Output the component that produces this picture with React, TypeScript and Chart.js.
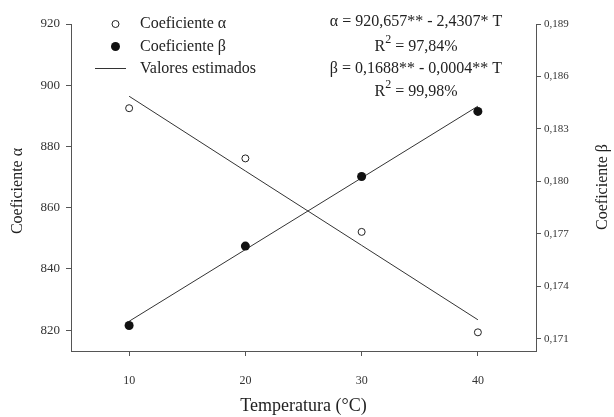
import React, { useEffect, useRef } from 'react';
import { Chart, registerables } from 'chart.js';

Chart.register(...registerables);

const temperatures = [10, 20, 30, 40];
const alphaObserved = [892.5, 876.1, 852.1, 819.3];
const betaObserved = [0.17176, 0.1763, 0.18028, 0.184];
const alphaEstimated = [896.4, 872.0, 847.7, 823.4];
const betaEstimated = [0.172, 0.1761, 0.1802, 0.1843];
const xTicks = [10, 20, 30, 40];
const alphaTicks = [820, 840, 860, 880, 900, 920];
const betaTicks = [0.171, 0.174, 0.177, 0.18, 0.183, 0.186, 0.189];
const legendLabels = ['Coeficiente α', 'Coeficiente β', 'Valores estimados'];
const equationAlpha = 'α = 920,657** - 2,4307* T';
const r2Alpha = ' = 97,84%';
const equationBeta = 'β = 0,1688** - 0,0004** T';
const r2Beta = ' = 99,98%';
const xTitle = 'Temperatura (°C)';
const yTitle = 'Coeficiente α';
const y1Title = 'Coeficiente β';

const SERIF = '"Liberation Serif", "DejaVu Serif", serif';
const INK = '#222';
const AXIS = '#555';

const overlay = {
  id: 'overlay',
  afterDraw(chart: any) {
    const ctx = chart.ctx as CanvasRenderingContext2D;
    ctx.save();
    ctx.fillStyle = INK;
    ctx.strokeStyle = INK;
    ctx.textBaseline = 'middle';

    // Legend
    ctx.font = `16px ${SERIF}`;
    ctx.textAlign = 'left';
    const legY = [24, 46.5, 68.5];
    ctx.lineWidth = 1;
    ctx.beginPath();
    ctx.arc(115.5, legY[0], 3.5, 0, Math.PI * 2);
    ctx.fillStyle = '#fff';
    ctx.fill();
    ctx.stroke();
    ctx.fillStyle = '#111';
    ctx.beginPath();
    ctx.arc(115.5, legY[1], 4.5, 0, Math.PI * 2);
    ctx.fill();
    ctx.strokeStyle = '#333';
    ctx.beginPath();
    ctx.moveTo(95, legY[2]);
    ctx.lineTo(126, legY[2]);
    ctx.stroke();
    ctx.fillStyle = INK;
    legendLabels.forEach((t, i) => ctx.fillText(t, 140, legY[i]));

    // Equations
    const cx = 416;
    ctx.textAlign = 'center';
    ctx.fillText(equationAlpha, cx, 21.5);
    ctx.fillText(equationBeta, cx, 68.5);
    const drawR2 = (rest: string, y: number) => {
      ctx.font = `16px ${SERIF}`;
      const wR = ctx.measureText('R').width;
      const wRest = ctx.measureText(rest).width;
      ctx.font = `12px ${SERIF}`;
      const w2 = ctx.measureText('2').width;
      const total = wR + w2 + wRest;
      let x = cx - total / 2;
      ctx.textAlign = 'left';
      ctx.font = `16px ${SERIF}`;
      ctx.fillText('R', x, y);
      x += wR;
      ctx.font = `12px ${SERIF}`;
      ctx.fillText('2', x, y - 7);
      x += w2;
      ctx.font = `16px ${SERIF}`;
      ctx.fillText(rest, x, y);
      ctx.textAlign = 'center';
    };
    drawR2(r2Alpha, 47);
    drawR2(r2Beta, 92);

    // Axis titles
    ctx.textAlign = 'center';
    ctx.font = `18px ${SERIF}`;
    ctx.fillText(xTitle, 303.5, 406);
    ctx.font = `16px ${SERIF}`;
    ctx.save();
    ctx.translate(18, 191);
    ctx.rotate(-Math.PI / 2);
    ctx.fillText(yTitle, 0, 0);
    ctx.restore();
    ctx.save();
    ctx.translate(603, 187);
    ctx.rotate(-Math.PI / 2);
    ctx.fillText(y1Title, 0, 0);
    ctx.restore();
    ctx.restore();
  },
};

export default function App() {
  const ref = useRef<HTMLCanvasElement>(null);
  useEffect(() => {
    document.body.style.margin = '0';
    const canvas = ref.current!;
    const pts = (ys: number[]) => temperatures.map((x, i) => ({ x, y: ys[i] }));
    const chart = new Chart(canvas, {
      type: 'line',
      data: {
        datasets: [
          {
            label: legendLabels[2],
            data: pts(alphaEstimated),
            yAxisID: 'y',
            borderColor: '#333',
            borderWidth: 1,
            pointRadius: 0,
            order: 3,
          },
          {
            label: legendLabels[2],
            data: pts(betaEstimated),
            yAxisID: 'y1',
            borderColor: '#333',
            borderWidth: 1,
            pointRadius: 0,
            order: 3,
          },
          {
            label: legendLabels[0],
            data: pts(alphaObserved),
            yAxisID: 'y',
            showLine: false,
            pointRadius: 3.5,
            pointBackgroundColor: '#fff',
            pointBorderColor: INK,
            pointBorderWidth: 1,
            order: 1,
          },
          {
            label: legendLabels[1],
            data: pts(betaObserved),
            yAxisID: 'y1',
            showLine: false,
            pointRadius: 4.5,
            pointBackgroundColor: '#111',
            pointBorderColor: '#111',
            pointBorderWidth: 0,
            order: 1,
          },
        ],
      },
      options: {
        animation: false,
        responsive: false,
        devicePixelRatio: 1,
        layout: { padding: { top: 24, left: 0, right: 0, bottom: 0 } },
        plugins: { legend: { display: false }, tooltip: { enabled: false } },
        scales: {
          x: {
            type: 'linear',
            min: 5,
            max: 45,
            afterBuildTicks: (s: any) => {
              s.ticks = xTicks.map((v) => ({ value: v }));
            },
            afterFit: (s: any) => {
              s.height = 66;
            },
            grid: { drawOnChartArea: false, drawTicks: true, tickLength: 5, color: AXIS },
            border: { color: AXIS, width: 1 },
            ticks: { color: '#333', font: { family: SERIF, size: 12 }, padding: 18, maxRotation: 0 },
          },
          y: {
            type: 'linear',
            position: 'left',
            min: 813.2,
            max: 920,
            afterBuildTicks: (s: any) => {
              s.ticks = alphaTicks.map((v) => ({ value: v }));
            },
            afterFit: (s: any) => {
              s.width = 71;
            },
            grid: { drawOnChartArea: false, drawTicks: true, tickLength: 5, color: AXIS },
            border: { color: AXIS, width: 1 },
            ticks: { color: '#333', font: { family: SERIF, size: 13 }, padding: 6 },
          },
          y1: {
            type: 'linear',
            position: 'right',
            min: 0.1703,
            max: 0.189,
            afterBuildTicks: (s: any) => {
              s.ticks = betaTicks.map((v) => ({ value: v }));
            },
            afterFit: (s: any) => {
              s.width = 78;
            },
            grid: { drawOnChartArea: false, drawTicks: true, tickLength: 5, color: AXIS },
            border: { color: AXIS, width: 1 },
            ticks: {
              color: '#333',
              font: { family: SERIF, size: 11 },
              padding: 3,
              callback: (v: any) => Number(v).toFixed(3).replace('.', ','),
            },
          },
        },
      },
      plugins: [overlay],
    });
    return () => chart.destroy();
  }, []);
  return (
    <div style={{ width: 614, height: 417 }}>
      <canvas ref={ref} width={614} height={417} style={{ display: 'block' }} />
    </div>
  );
}
